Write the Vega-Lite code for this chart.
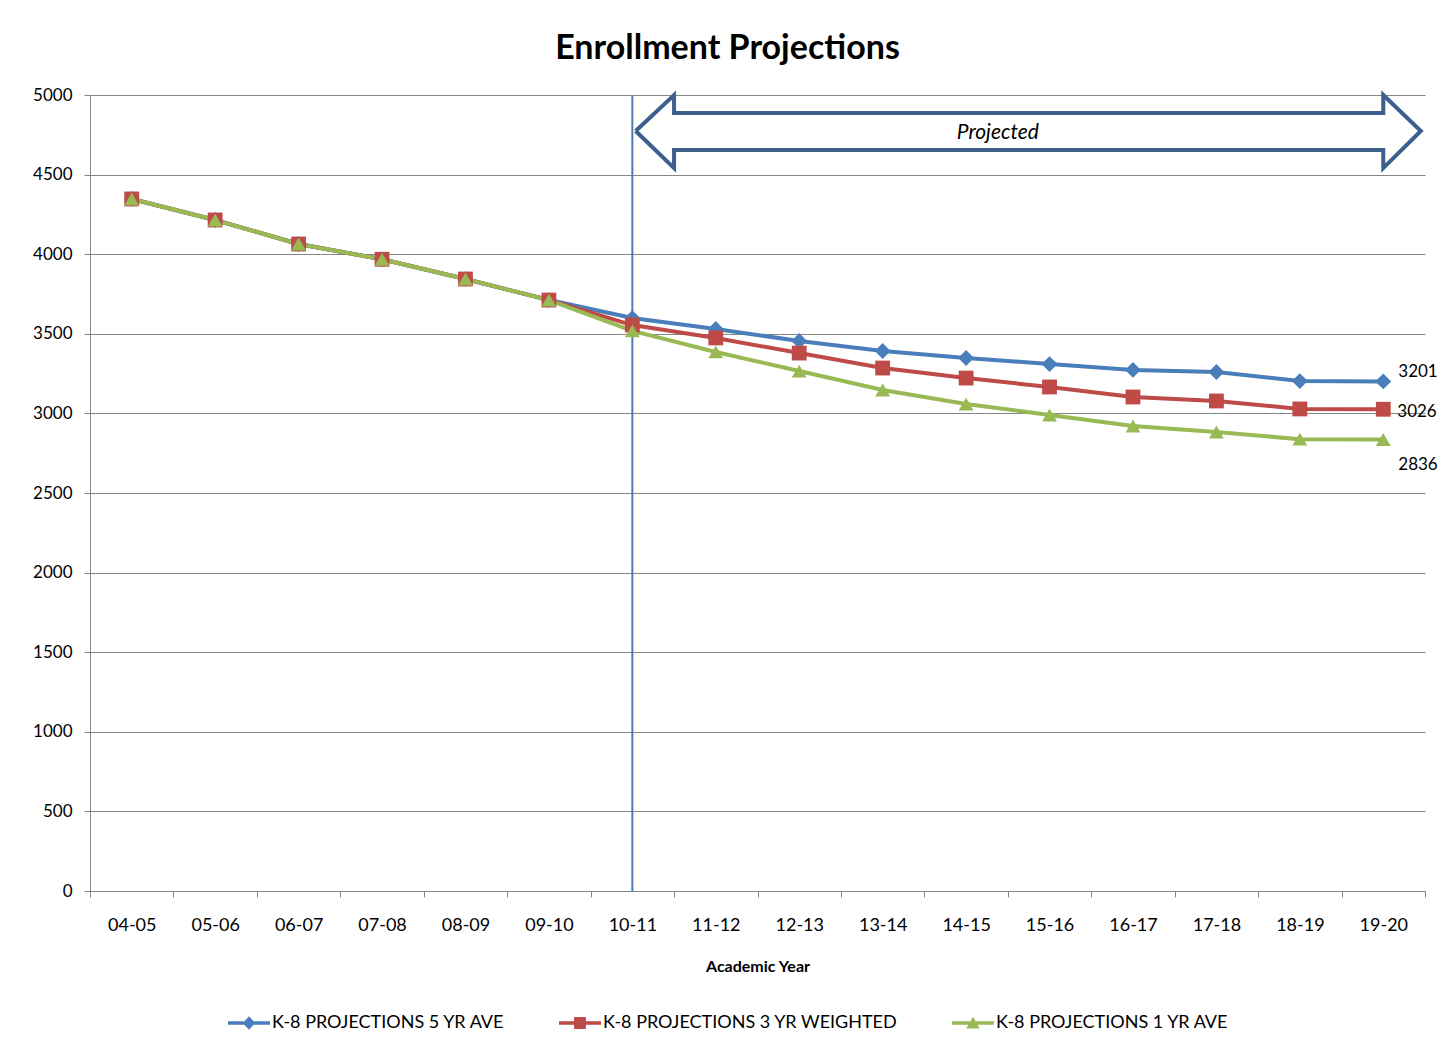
{
  "$schema": "https://vega.github.io/schema/vega-lite/v6.json",
  "width": 1335,
  "height": 796,
  "autosize": "none",
  "padding": {"left": 90, "top": 95, "right": 17, "bottom": 160},
  "background": "white",
  "config": {
    "font": "Lato",
    "view": {"stroke": null},
    "axis": {"labelFont": "Lato", "titleFont": "Lato", "labelColor": "#000000", "titleColor": "#000000"}
  },
  "title": {
    "text": "Enrollment Projections",
    "fontSize": 34,
    "fontWeight": "bold",
    "font": "Lato",
    "color": "#000000",
    "anchor": "middle",
    "dx": -30,
    "offset": 20
  },
  "datasets": {
    "proj": [
      {"year": "04-05", "series": "K-8 PROJECTIONS 5 YR AVE", "value": 4347},
      {"year": "05-06", "series": "K-8 PROJECTIONS 5 YR AVE", "value": 4215},
      {"year": "06-07", "series": "K-8 PROJECTIONS 5 YR AVE", "value": 4064},
      {"year": "07-08", "series": "K-8 PROJECTIONS 5 YR AVE", "value": 3968},
      {"year": "08-09", "series": "K-8 PROJECTIONS 5 YR AVE", "value": 3844},
      {"year": "09-10", "series": "K-8 PROJECTIONS 5 YR AVE", "value": 3712},
      {"year": "10-11", "series": "K-8 PROJECTIONS 5 YR AVE", "value": 3599},
      {"year": "11-12", "series": "K-8 PROJECTIONS 5 YR AVE", "value": 3530},
      {"year": "12-13", "series": "K-8 PROJECTIONS 5 YR AVE", "value": 3455},
      {"year": "13-14", "series": "K-8 PROJECTIONS 5 YR AVE", "value": 3392},
      {"year": "14-15", "series": "K-8 PROJECTIONS 5 YR AVE", "value": 3348},
      {"year": "15-16", "series": "K-8 PROJECTIONS 5 YR AVE", "value": 3310},
      {"year": "16-17", "series": "K-8 PROJECTIONS 5 YR AVE", "value": 3273},
      {"year": "17-18", "series": "K-8 PROJECTIONS 5 YR AVE", "value": 3260},
      {"year": "18-19", "series": "K-8 PROJECTIONS 5 YR AVE", "value": 3203},
      {"year": "19-20", "series": "K-8 PROJECTIONS 5 YR AVE", "value": 3201},
      {"year": "04-05", "series": "K-8 PROJECTIONS 3 YR WEIGHTED", "value": 4347},
      {"year": "05-06", "series": "K-8 PROJECTIONS 3 YR WEIGHTED", "value": 4215},
      {"year": "06-07", "series": "K-8 PROJECTIONS 3 YR WEIGHTED", "value": 4064},
      {"year": "07-08", "series": "K-8 PROJECTIONS 3 YR WEIGHTED", "value": 3968},
      {"year": "08-09", "series": "K-8 PROJECTIONS 3 YR WEIGHTED", "value": 3844},
      {"year": "09-10", "series": "K-8 PROJECTIONS 3 YR WEIGHTED", "value": 3712},
      {"year": "10-11", "series": "K-8 PROJECTIONS 3 YR WEIGHTED", "value": 3555},
      {"year": "11-12", "series": "K-8 PROJECTIONS 3 YR WEIGHTED", "value": 3474},
      {"year": "12-13", "series": "K-8 PROJECTIONS 3 YR WEIGHTED", "value": 3379},
      {"year": "13-14", "series": "K-8 PROJECTIONS 3 YR WEIGHTED", "value": 3285},
      {"year": "14-15", "series": "K-8 PROJECTIONS 3 YR WEIGHTED", "value": 3222},
      {"year": "15-16", "series": "K-8 PROJECTIONS 3 YR WEIGHTED", "value": 3166},
      {"year": "16-17", "series": "K-8 PROJECTIONS 3 YR WEIGHTED", "value": 3103},
      {"year": "17-18", "series": "K-8 PROJECTIONS 3 YR WEIGHTED", "value": 3078},
      {"year": "18-19", "series": "K-8 PROJECTIONS 3 YR WEIGHTED", "value": 3028},
      {"year": "19-20", "series": "K-8 PROJECTIONS 3 YR WEIGHTED", "value": 3026},
      {"year": "04-05", "series": "K-8 PROJECTIONS 1 YR AVE", "value": 4347},
      {"year": "05-06", "series": "K-8 PROJECTIONS 1 YR AVE", "value": 4215},
      {"year": "06-07", "series": "K-8 PROJECTIONS 1 YR AVE", "value": 4064},
      {"year": "07-08", "series": "K-8 PROJECTIONS 1 YR AVE", "value": 3968},
      {"year": "08-09", "series": "K-8 PROJECTIONS 1 YR AVE", "value": 3844},
      {"year": "09-10", "series": "K-8 PROJECTIONS 1 YR AVE", "value": 3712},
      {"year": "10-11", "series": "K-8 PROJECTIONS 1 YR AVE", "value": 3518},
      {"year": "11-12", "series": "K-8 PROJECTIONS 1 YR AVE", "value": 3386},
      {"year": "12-13", "series": "K-8 PROJECTIONS 1 YR AVE", "value": 3266},
      {"year": "13-14", "series": "K-8 PROJECTIONS 1 YR AVE", "value": 3147},
      {"year": "14-15", "series": "K-8 PROJECTIONS 1 YR AVE", "value": 3059},
      {"year": "15-16", "series": "K-8 PROJECTIONS 1 YR AVE", "value": 2990},
      {"year": "16-17", "series": "K-8 PROJECTIONS 1 YR AVE", "value": 2921},
      {"year": "17-18", "series": "K-8 PROJECTIONS 1 YR AVE", "value": 2883},
      {"year": "18-19", "series": "K-8 PROJECTIONS 1 YR AVE", "value": 2838},
      {"year": "19-20", "series": "K-8 PROJECTIONS 1 YR AVE", "value": 2836}
    ],
    "arrow": [
      {"i": 0, "px": 6.54, "py": 4774},
      {"i": 1, "px": 7.0, "py": 5000},
      {"i": 2, "px": 7.0, "py": 4887},
      {"i": 3, "px": 15.5, "py": 4887},
      {"i": 4, "px": 15.5, "py": 5000},
      {"i": 5, "px": 15.95, "py": 4774},
      {"i": 6, "px": 15.5, "py": 4541},
      {"i": 7, "px": 15.5, "py": 4654},
      {"i": 8, "px": 7.0, "py": 4654},
      {"i": 9, "px": 7.0, "py": 4541},
      {"i": 10, "px": 6.54, "py": 4774}
    ],
    "note": [{"label": "Projected", "px": 10.88, "py": 4760}],
    "divider": [{"year": "10-11", "y0": 0, "y1": 5000}]
  },
  "resolve": {"scale": {"x": "independent"}, "axis": {"x": "independent"}},
  "layer": [
    {
      "data": {"name": "proj"},
      "encoding": {
        "x": {
          "field": "year",
          "type": "ordinal",
          "scale": {"type": "band", "paddingInner": 0, "paddingOuter": 0},
          "axis": {
            "title": "Academic Year",
            "titleFontSize": 16,
            "titleFontWeight": "bold",
            "titlePadding": 24,
            "labelAngle": 0,
            "labelFontSize": 18,
            "labelPadding": 19,
            "tickBand": "extent",
            "tickSize": 6,
            "tickColor": "#868686",
            "domainColor": "#868686",
            "grid": false
          }
        },
        "y": {
          "field": "value",
          "type": "quantitative",
          "scale": {"domain": [0, 5000], "nice": false},
          "axis": {
            "title": null,
            "format": "d",
            "values": [0, 500, 1000, 1500, 2000, 2500, 3000, 3500, 4000, 4500, 5000],
            "labelFontSize": 17,
            "labelPadding": 12,
            "tickSize": 6,
            "tickColor": "#868686",
            "domainColor": "#868686",
            "gridColor": "#868686",
            "grid": true
          }
        },
        "color": {
          "field": "series",
          "type": "nominal",
          "scale": {
            "domain": ["K-8 PROJECTIONS 5 YR AVE", "K-8 PROJECTIONS 3 YR WEIGHTED", "K-8 PROJECTIONS 1 YR AVE"],
            "range": ["#4A7EBB", "#BE4B48", "#98B954"]
          },
          "legend": {
            "orient": "none",
            "direction": "horizontal",
            "legendX": 138,
            "legendY": 907,
            "title": null,
            "labelFont": "Lato",
            "labelFontSize": 18,
            "labelColor": "#000000",
            "labelLimit": 0,
            "labelOffset": 2,
            "columnPadding": 54,
            "symbolSize": 1764,
            "symbolStrokeWidth": 0,
            "symbolType": "M-1,-0.08H1V0.08H-1Z",
            "encode": {
              "symbols": {
                "update": {
                  "shape": {"signal": "datum.value === 'K-8 PROJECTIONS 5 YR AVE' ? 'M-1,-0.08H1V0.08H-1Z M0,-0.32L0.3,0L0,0.32L-0.3,0Z' : (datum.value === 'K-8 PROJECTIONS 3 YR WEIGHTED' ? 'M-1,-0.08H1V0.08H-1Z M-0.28,-0.28H0.28V0.28H-0.28Z' : 'M-1,-0.08H1V0.08H-1Z M0,-0.3L0.32,0.26H-0.32Z')"},
                  "fill": {"signal": "datum.value === 'K-8 PROJECTIONS 5 YR AVE' ? '#4A7EBB' : (datum.value === 'K-8 PROJECTIONS 3 YR WEIGHTED' ? '#BE4B48' : '#98B954')"},
                  "fillOpacity": {"value": 1},
                  "stroke": {"value": "transparent"},
                  "strokeWidth": {"value": 0},
                  "opacity": {"value": 1},
                  "size": {"value": 1764}
                }
              }
            }
          }
        }
      },
      "layer": [
        {
          "data": {"name": "divider"},
          "mark": {"type": "rule", "color": "#4A7EBB", "strokeWidth": 2},
          "encoding": {
            "x": {"field": "year", "type": "ordinal"},
            "y": {"field": "y0", "type": "quantitative"},
            "y2": {"field": "y1"},
            "color": {"value": "#4A7EBB"}
          }
        },
        {
          "mark": {"type": "line", "strokeWidth": 4}
        },
        {
          "transform": [{"filter": "datum.series === 'K-8 PROJECTIONS 5 YR AVE'"}],
          "mark": {"type": "point", "filled": true, "opacity": 1, "shape": "diamond", "size": 250}
        },
        {
          "transform": [{"filter": "datum.series === 'K-8 PROJECTIONS 3 YR WEIGHTED'"}],
          "mark": {"type": "point", "filled": true, "opacity": 1, "shape": "square", "size": 220}
        },
        {
          "transform": [{"filter": "datum.series === 'K-8 PROJECTIONS 1 YR AVE'"}],
          "mark": {"type": "point", "filled": true, "opacity": 1, "shape": "triangle-up", "size": 220}
        },
        {
          "transform": [{"filter": "datum.year === '19-20' && datum.series === 'K-8 PROJECTIONS 5 YR AVE'"}],
          "mark": {"type": "text", "align": "left", "dx": 15, "dy": -9, "fontSize": 17, "font": "Lato"},
          "encoding": {"text": {"field": "value", "type": "quantitative"}, "color": {"value": "#000000"}}
        },
        {
          "transform": [{"filter": "datum.year === '19-20' && datum.series === 'K-8 PROJECTIONS 3 YR WEIGHTED'"}],
          "mark": {"type": "text", "align": "left", "dx": 14, "dy": 3, "fontSize": 17, "font": "Lato"},
          "encoding": {"text": {"field": "value", "type": "quantitative"}, "color": {"value": "#000000"}}
        },
        {
          "transform": [{"filter": "datum.year === '19-20' && datum.series === 'K-8 PROJECTIONS 1 YR AVE'"}],
          "mark": {"type": "text", "align": "left", "dx": 15, "dy": 25, "fontSize": 17, "font": "Lato"},
          "encoding": {"text": {"field": "value", "type": "quantitative"}, "color": {"value": "#000000"}}
        }
      ]
    },
    {
      "data": {"name": "arrow"},
      "mark": {"type": "line", "color": "#3D5F8C", "strokeWidth": 4, "strokeJoin": "miter"},
      "encoding": {
        "x": {"field": "px", "type": "quantitative", "scale": {"domain": [0, 16], "nice": false, "zero": false}, "axis": null},
        "y": {"field": "py", "type": "quantitative"},
        "order": {"field": "i", "type": "quantitative"}
      }
    },
    {
      "data": {"name": "note"},
      "mark": {"type": "text", "fontSize": 21, "fontStyle": "italic", "font": "Lato", "color": "#000000"},
      "encoding": {
        "x": {"field": "px", "type": "quantitative", "scale": {"domain": [0, 16], "nice": false, "zero": false}, "axis": null},
        "y": {"field": "py", "type": "quantitative"},
        "text": {"field": "label", "type": "nominal"}
      }
    }
  ]
}
